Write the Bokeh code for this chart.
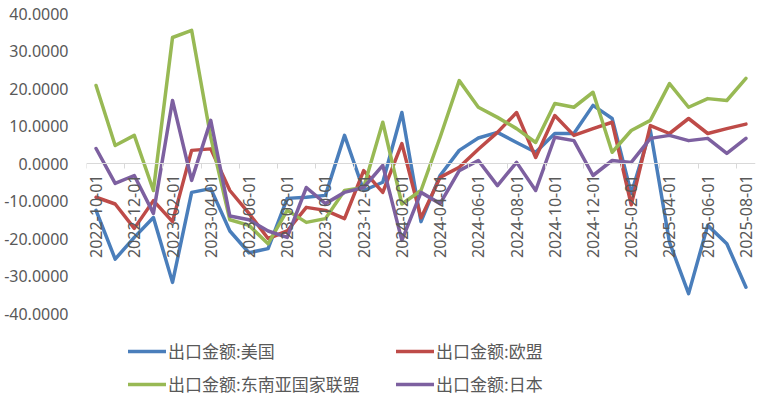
import math
from bokeh.plotting import figure
from bokeh.models import (ColumnDataSource, FixedTicker, NumeralTickFormatter,
                          Range1d, Legend, LegendItem)
from bokeh.embed import file_html
from bokeh.resources import INLINE

months = ['2022-10-01', '2022-11-01', '2022-12-01', '2023-01-01', '2023-02-01', '2023-03-01',
          '2023-04-01', '2023-05-01', '2023-06-01', '2023-07-01', '2023-08-01', '2023-09-01',
          '2023-10-01', '2023-11-01', '2023-12-01', '2024-01-01', '2024-02-01', '2024-03-01',
          '2024-04-01', '2024-05-01', '2024-06-01', '2024-07-01', '2024-08-01', '2024-09-01',
          '2024-10-01', '2024-11-01', '2024-12-01', '2025-01-01', '2025-02-01', '2025-03-01',
          '2025-04-01', '2025-05-01', '2025-06-01', '2025-07-01', '2025-08-01']

usa = [-12.5, -25.5, -19.7, -14.4, -31.7, -7.7, -6.7, -18.0, -23.8, -22.7, -9.3, -9.0,
       -8.5, 7.5, -7.2, -5.0, 13.6, -15.5, -3.2, 3.5, 6.8, 8.3, 5.6, 3.0,
       8.0, 8.0, 15.5, 12.0, -8.0, 8.8, -21.0, -34.7, -16.5, -21.4, -33.0]
eu = [-9.0, -10.8, -17.3, -9.9, -15.5, 3.5, 3.9, -7.2, -13.3, -20.0, -18.0, -11.7,
      -12.5, -14.7, -1.9, -7.7, 5.3, -14.5, -3.7, -1.0, 3.8, 8.3, 13.6, 1.6,
      12.8, 7.5, 9.3, 11.0, -11.0, 10.1, 8.0, 12.0, 8.0, 9.3, 10.5]
asean = [20.8, 4.8, 7.5, -7.2, 33.6, 35.5, 7.0, -15.0, -16.5, -21.4, -12.5, -15.7,
         -14.7, -7.2, -6.4, 11.0, -10.8, -7.2, 7.0, 22.1, 15.0, 12.3, 9.3, 5.6,
         16.0, 15.0, 19.0, 3.0, 8.8, 11.5, 21.3, 15.0, 17.3, 16.8, 22.7]
japan = [4.0, -5.3, -3.2, -13.3, 16.8, -4.5, 11.5, -14.0, -15.0, -18.0, -19.7, -6.4,
         -10.7, -7.7, -6.4, -0.5, -20.5, -7.7, -10.7, -1.9, 0.8, -5.9, 0.3, -7.2,
         7.0, 6.1, -3.2, 0.8, 0.3, 6.7, 7.5, 6.1, 6.7, 2.7, 6.7]

series_names = ['出口金额:美国', '出口金额:欧盟', '出口金额:东南亚国家联盟', '出口金额:日本']
series_colors = ['#4a7ebb', '#be4b48', '#98b954', '#7d60a0']
y_ticks = [-40, -30, -20, -10, 0, 10, 20, 30, 40]

idx = list(range(len(months)))
src = ColumnDataSource(dict(x=idx, usa=usa, eu=eu, asean=asean, japan=japan))

FONT = "Noto Sans"
GRAY = "#595959"
FRAME_H = 384

p = figure(width=762, height=397, output_backend="svg", toolbar_location=None,
           x_range=Range1d(-0.5, len(months) - 0.5),
           y_range=Range1d(40 - FRAME_H / 3.75, 40),
           min_border_left=86, min_border_right=7, min_border_top=13, min_border_bottom=0)
p.outline_line_color = None
p.xgrid.visible = False
p.ygrid.visible = False

renderers = []
for key, color in zip(['usa', 'eu', 'asean', 'japan'], series_colors):
    r = p.line('x', key, source=src, line_color=color, line_width=3.5,
               line_join='round', line_cap='round')
    renderers.append(r)

# y axis
ya = p.yaxis[0]
ya.ticker = FixedTicker(ticks=y_ticks)
ya.formatter = NumeralTickFormatter(format="0.0000")
ya.axis_line_color = None
ya.major_tick_line_color = None
ya.minor_tick_line_color = None
ya.major_tick_out = 0
ya.major_tick_in = 0
ya.major_label_standoff = 18
ya.major_label_text_font = FONT
ya.major_label_text_font_size = "16px"
ya.major_label_text_color = GRAY

# x axis at zero
xa = p.xaxis[0]
xa.fixed_location = 0
label_pos = idx[::2]
xa.ticker = FixedTicker(ticks=label_pos, minor_ticks=[i - 0.5 for i in label_pos])
xa.major_label_overrides = {i: months[i] for i in label_pos}
xa.major_label_orientation = math.pi / 2
xa.axis_line_color = "#d9d9d9"
xa.axis_line_width = 1
xa.major_tick_line_color = None
xa.major_tick_out = 0
xa.major_tick_in = 0
xa.minor_tick_line_color = "#d9d9d9"
xa.minor_tick_out = 5
xa.minor_tick_in = 0
xa.major_label_standoff = 6
xa.major_label_text_font = FONT
xa.major_label_text_font_size = "16px"
xa.major_label_text_color = GRAY


def make_legend(ids, loc):
    items = [LegendItem(label=series_names[i], renderers=[renderers[i]]) for i in ids]
    return Legend(items=items, location=loc, orientation="vertical",
                  glyph_width=38, glyph_height=20, label_height=20, label_standoff=2,
                  spacing=8, padding=0, margin=0, border_line_color=None,
                  background_fill_alpha=0, label_text_font="Noto Sans CJK SC",
                  label_text_font_size="17px", label_text_color=GRAY)


p.add_layout(make_legend([0, 2], (42, 1)), "center")
p.add_layout(make_legend([1, 3], (310, 1)), "center")

open("out.html", "w").write(file_html(p, INLINE))
